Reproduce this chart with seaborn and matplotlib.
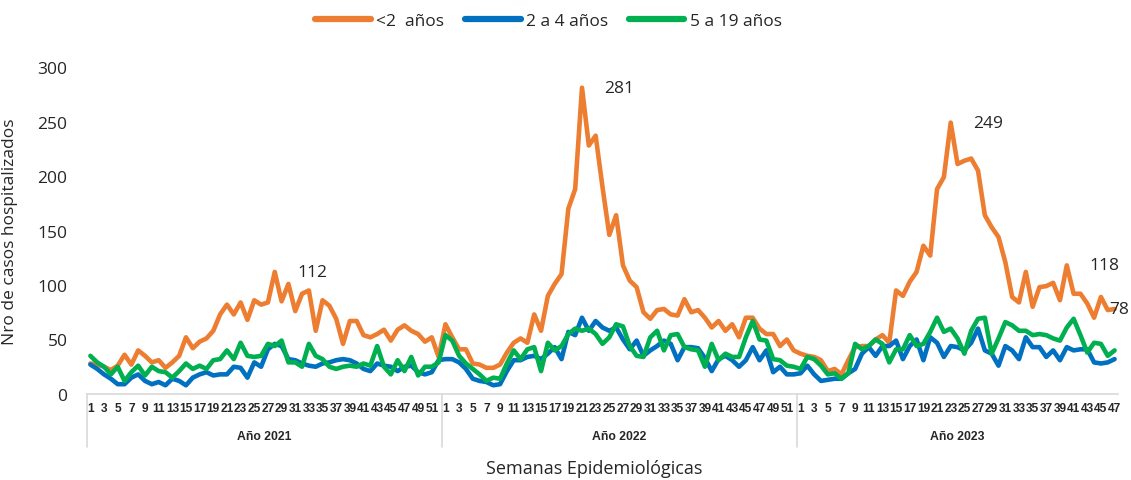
import numpy as np
import pandas as pd
import seaborn as sns
import matplotlib.pyplot as plt
import matplotlib.transforms as mtransforms
from matplotlib.lines import Line2D

# weeks per year and values
years = ["Año 2021", "Año 2022", "Año 2023"]
weeks_per_year = [52, 52, 47]

menor_2 = [28, 27, 25, 22, 26, 36, 27, 40, 35, 29, 31, 24, 29, 35, 52, 42, 48, 51, 58, 73,
           82, 73, 84, 68, 86, 82, 84, 112, 85, 101, 76, 92, 95, 58, 86, 81, 69, 46, 67, 67,
           54, 52, 55, 59, 49, 59, 63, 58, 55, 48, 52, 34,
           64, 52, 41, 41, 28, 27, 24, 24, 27, 38, 47, 51, 47, 73, 58, 90, 101, 110, 170, 188,
           281, 228, 237, 190, 146, 164, 118, 104, 98, 75, 69, 77, 78, 73, 72, 87, 75, 77, 70, 61,
           67, 58, 64, 52, 70, 70, 60, 55, 55, 44, 50, 40,
           37, 35, 34, 31, 21, 23, 18, 31, 43, 44, 44, 50, 54, 47, 95, 90, 103, 112, 136, 127,
           188, 199, 249, 211, 214, 216, 205, 164, 153, 144, 121, 89, 84, 112, 80, 98, 99, 102, 86, 118,
           92, 92, 83, 70, 89, 77, 78]

de_2_a_4 = [27, 23, 18, 14, 9, 9, 15, 18, 12, 9, 11, 8, 14, 12, 8, 15, 18, 20, 17, 18,
            18, 25, 24, 15, 29, 25, 41, 46, 44, 32, 31, 28, 26, 25, 28, 29, 31, 32, 31, 28,
            23, 21, 28, 26, 25, 21, 25, 26, 20, 18, 20, 31,
            32, 32, 29, 23, 14, 12, 11, 8, 9, 21, 31, 31, 34, 35, 32, 37, 43, 32, 57, 54,
            70, 58, 67, 61, 58, 61, 50, 41, 49, 35, 40, 44, 49, 46, 31, 43, 43, 42, 33, 21,
            32, 35, 31, 25, 31, 43, 31, 40, 20, 25, 18, 18,
            19, 26, 18, 12, 13, 14, 14, 19, 23, 37, 43, 35, 44, 44, 49, 32, 44, 50, 31, 52,
            47, 34, 44, 43, 40, 47, 60, 40, 37, 26, 44, 40, 32, 52, 43, 43, 34, 40, 31, 43,
            40, 41, 41, 29, 28, 29, 32]

de_5_a_19 = [35, 29, 25, 18, 25, 12, 20, 26, 17, 25, 21, 20, 15, 21, 28, 23, 26, 23, 31, 32,
             40, 32, 47, 35, 34, 35, 46, 44, 49, 29, 29, 25, 46, 35, 32, 25, 23, 25, 26, 25,
             28, 26, 44, 25, 18, 31, 21, 34, 17, 25, 25, 29,
             54, 49, 35, 28, 23, 18, 12, 15, 14, 28, 40, 32, 41, 43, 21, 47, 40, 44, 55, 60,
             58, 60, 55, 46, 52, 64, 62, 44, 35, 34, 52, 58, 40, 54, 55, 43, 41, 40, 25, 46,
             31, 37, 34, 34, 52, 67, 50, 49, 32, 31, 26, 25,
             23, 34, 32, 26, 18, 19, 14, 19, 46, 41, 44, 50, 46, 29, 41, 41, 54, 44, 46, 57,
             70, 57, 60, 51, 37, 58, 69, 70, 37, 51, 66, 63, 58, 58, 54, 55, 54, 51, 49, 61,
             69, 54, 38, 47, 46, 35, 40]

series = ["<2  años", "2 a 4 años", "5 a 19 años"]
colors = ["#ED7D31", "#0070C0", "#00B050"]

# (year, week) points of the <2 series that carry a value label
labeled = [("Año 2021", 28), ("Año 2022", 21), ("Año 2023", 23), ("Año 2023", 40), ("Año 2023", 47)]

week = [w for n in weeks_per_year for w in range(1, n + 1)]
year_of = [y for y, n in zip(years, weeks_per_year) for _ in range(n)]
pos = list(range(len(week)))

df = pd.DataFrame({
    "pos": pos * 3,
    "casos": menor_2 + de_2_a_4 + de_5_a_19,
    "grupo": np.repeat(series, len(pos)),
})

sns.set_theme(style="white")
plt.rcParams['font.family'] = ['Open Sans', 'DejaVu Sans']

fig = plt.figure(figsize=(11.31, 4.81), dpi=100)
ax = fig.add_axes([0.0769, 0.1788, 0.9116, 0.6798])

sns.lineplot(data=df, x="pos", y="casos", hue="grupo", hue_order=series,
             palette=dict(zip(series, colors)), linewidth=3.3, ax=ax, legend=False)

ax.set_xlim(-0.5, len(pos) - 0.5)
ax.set_ylim(0, 300)
ax.set_yticks(range(0, 301, 50))
ax.tick_params(axis="y", length=0, pad=14, labelsize=12.5)
ax.set_ylabel("Nro de casos hospitalizados", fontsize=12.5, labelpad=14)

ax.set_xticks(pos)
ax.set_xticklabels([str(w) if w % 2 == 1 else "" for w in week],
                   fontsize=8.6, fontweight="bold", family="Liberation Sans")
ax.tick_params(axis="x", length=0, pad=6)
ax.set_xlabel("")

for s in ["top", "right", "left"]:
    ax.spines[s].set_visible(False)
ax.spines["bottom"].set_color("#D9D9D9")
ax.spines["bottom"].set_linewidth(1.2)

# category table below the axis
trans = mtransforms.blended_transform_factory(ax.transData, ax.transAxes)
start = 0
for y, n in zip(years, weeks_per_year):
    ax.plot([start - 0.5, start - 0.5], [0, -0.162], transform=trans, clip_on=False,
            color="#D9D9D9", lw=1.2)
    ax.text(start + (n - 1) / 2, -0.128, y, transform=trans, ha="center", va="center",
            fontsize=8.8, fontweight="bold", family="Liberation Sans")
    start += n

fig.text(0.525, 0.006, "Semanas Epidemiológicas", ha="center", va="bottom", fontsize=13)

# value labels
for y, w in labeled:
    i = next(k for k in pos if year_of[k] == y and week[k] == w)
    dx = -4 if i == pos[-1] else 16
    ax.annotate(str(menor_2[i]), (i, menor_2[i]), xytext=(dx, 0), textcoords="offset points",
                ha="left", va="center", fontsize=12.5, annotation_clip=False)

handles = [Line2D([0], [0], color=c, lw=4.5, solid_capstyle="round") for c in colors]
fig.legend(handles, series, loc="center", bbox_to_anchor=(0.485, 0.954), ncol=3,
           frameon=False, fontsize=12.5, handlelength=3.2, handletextpad=0.3, columnspacing=1.2)

fig.savefig("out.png", dpi=100)
